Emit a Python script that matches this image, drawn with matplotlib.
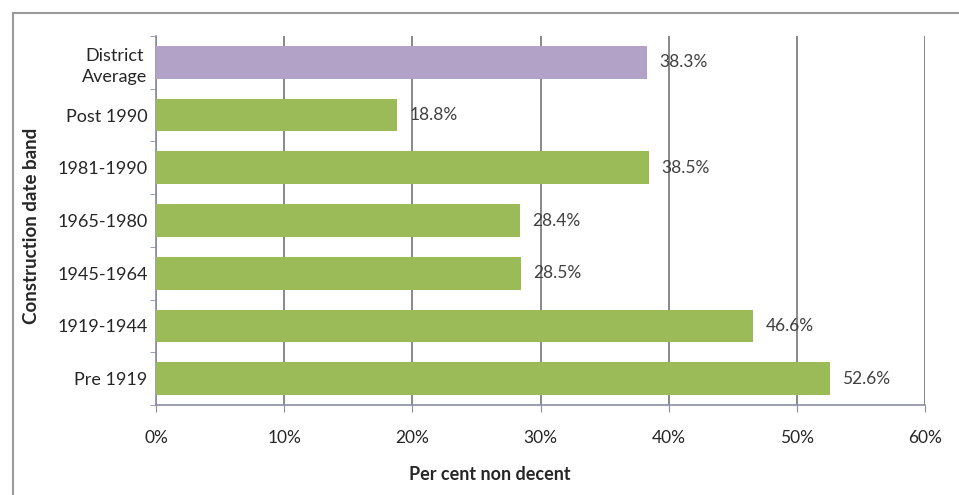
import matplotlib
matplotlib.use("Agg")
import matplotlib.pyplot as plt
from matplotlib.patches import Rectangle
from matplotlib.ticker import FixedLocator, PercentFormatter

categories = ["District\nAverage", "Post 1990", "1981-1990", "1965-1980", "1945-1964", "1919-1944", "Pre 1919"]
values = [38.3, 18.8, 38.5, 28.4, 28.5, 46.6, 52.6]
colors = ["#B3A2C7", "#9BBB59", "#9BBB59", "#9BBB59", "#9BBB59", "#9BBB59", "#9BBB59"]
xticks = [0, 10, 20, 30, 40, 50, 60]

plt.rcParams['font.family'] = ['Lato', 'DejaVu Sans']

W, H = 959, 495
fig = plt.figure(figsize=(W / 100, H / 100), dpi=100)
fig.patch.set_facecolor("white")

# outer chart border (extends past right and bottom edges)
fig.patches.append(Rectangle((13 / W, -0.05), 1.2, 1 - 13 / H + 0.05, transform=fig.transFigure,
                             fill=False, edgecolor="#9a9a9a", linewidth=1.5, zorder=0))

x0, x1 = 156 / W, 925 / W
y0, y1 = 1 - 405 / H, 1 - 36 / H
ax = fig.add_axes([x0, y0, x1 - x0, y1 - y0])

ypos = list(range(len(categories)))
ax.barh(ypos, values, height=0.62, color=colors, zorder=3)
ax.set_ylim(len(categories) - 0.5, -0.5)
ax.set_xlim(0, 60)

for y, v in zip(ypos, values):
    ax.text(v + 0.95, y, f"{v:.1f}%", va="center", ha="left", fontsize=12.5, color="#404040", zorder=4)

ax.set_xticks(xticks)
ax.xaxis.set_major_formatter(PercentFormatter(decimals=0))
ax.grid(axis="x", color="#7f7f7f", linewidth=1.3, zorder=1)
ax.set_yticks(ypos)
ax.set_yticklabels(categories, fontsize=13, color="#262626", multialignment="center", linespacing=1.4)
ax.yaxis.set_minor_locator(FixedLocator([i - 0.5 for i in range(len(categories) + 1)]))
ax.tick_params(axis="y", which="major", length=0, pad=6)
ax.tick_params(axis="y", which="minor", length=4, color="#8c8ca6", direction="out")
ax.tick_params(axis="x", which="major", length=5, color="#8c8ca6", direction="out", pad=13,
               labelsize=12.5, labelcolor="#262626")

for s in ["top", "right"]:
    ax.spines[s].set_visible(False)
for s in ["left", "bottom"]:
    ax.spines[s].set_color("#8c8ca6")
    ax.spines[s].set_linewidth(1.2)

fig.text(490 / W, 1 - 474 / H, "Per cent non decent", ha="center", va="center",
         fontsize=13, fontweight="bold", color="#262626")
fig.text(32 / W, 1 - 226 / H, "Construction date band", ha="center", va="center",
         rotation=90, fontsize=13.5, fontweight="bold", color="#262626")

fig.savefig("out.png", dpi=100, facecolor="white")
